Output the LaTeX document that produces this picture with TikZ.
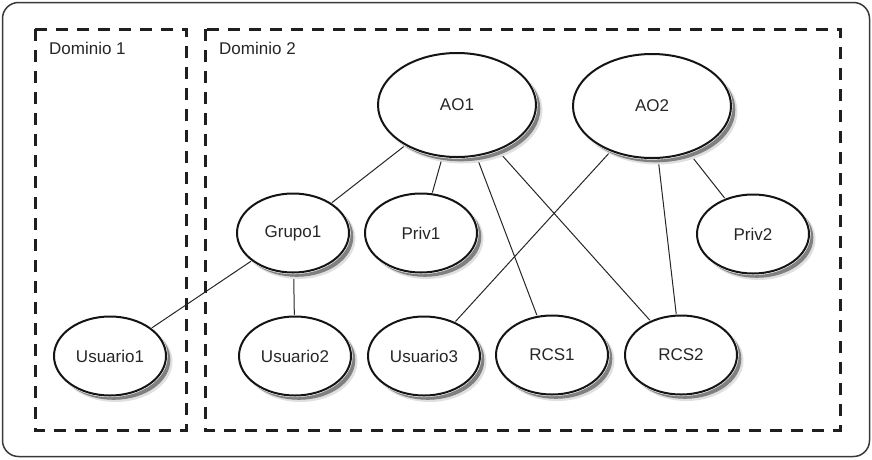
\documentclass[tikz,border=0pt]{standalone}
\usepackage{fontspec}
\setmainfont{Liberation Sans}
\usetikzlibrary{shapes.geometric,backgrounds}
\definecolor{ink}{HTML}{262626}
\begin{document}
\begin{tikzpicture}[x=1pt,y=-1pt,
  ent/.style={ellipse, draw=black!92, line width=2pt, fill=white, inner sep=0pt,
    minimum width=112pt, minimum height=79pt,
    font=\fontsize{17}{19}\selectfont, text=ink,
    preaction={fill=black!12, draw=black!12, line width=2pt, transform canvas={xshift=5.5pt, yshift=-5.5pt}},
    preaction={fill=black!50, draw=black!50, line width=1pt, transform canvas={xshift=3.8pt, yshift=-3.8pt}},
    preaction={draw=white, line width=3.2pt}},
  big/.style={ent, minimum width=158pt, minimum height=104pt},
  dom/.style={draw=black!88, line width=3pt, dash pattern=on 12pt off 9pt},
  frame/.style={draw=black!78, line width=1.5pt, rounded corners=16pt},
  link/.style={draw=black!85, line width=1pt},
  lab/.style={anchor=west, inner sep=0pt, font=\fontsize{17}{19}\selectfont, text=ink}
]
\useasboundingbox (0,0) rectangle (872,459);

% nodes
\node[big] (ao1) at (457,105) {AO1};
\node[big] (ao2) at (652,106) {AO2};
\node[ent] (grupo1) at (293,233) {Grupo1};
\node[ent] (priv1) at (421,233) {Priv1};
\node[ent] (priv2) at (753,234) {Priv2};
\node[ent] (usuario1) at (110,356) {Usuario1};
\node[ent] (usuario2) at (295,356) {Usuario2};
\node[ent] (usuario3) at (424,356) {Usuario3};
\node[ent] (rcs1) at (552,355) {RCS1};
\node[ent] (rcs2) at (681,355) {RCS2};

\node[lab] (d1) at (49,48) {Dominio 1};
\node[lab] (d2) at (219,48) {Dominio 2};

\begin{scope}[on background layer]
  \draw[frame] (2.5,2.5) rectangle (869.5,456.5);
  \draw[dom] (35,29) rectangle (186,430);
  \draw[dom] (205,29) rectangle (840,430);
  \draw[link] (ao1) -- (grupo1);
  \draw[link] (ao1) -- (priv1);
  \draw[link] (ao1) -- (rcs1);
  \draw[link] (ao1) -- (rcs2);
  \draw[link] (ao2) -- (usuario3);
  \draw[link] (ao2) -- (rcs2);
  \draw[link] (ao2) -- (priv2);
  \draw[link] (grupo1) -- (usuario1);
  \draw[link] (grupo1) -- (usuario2);
\end{scope}
\end{tikzpicture}
\end{document}
